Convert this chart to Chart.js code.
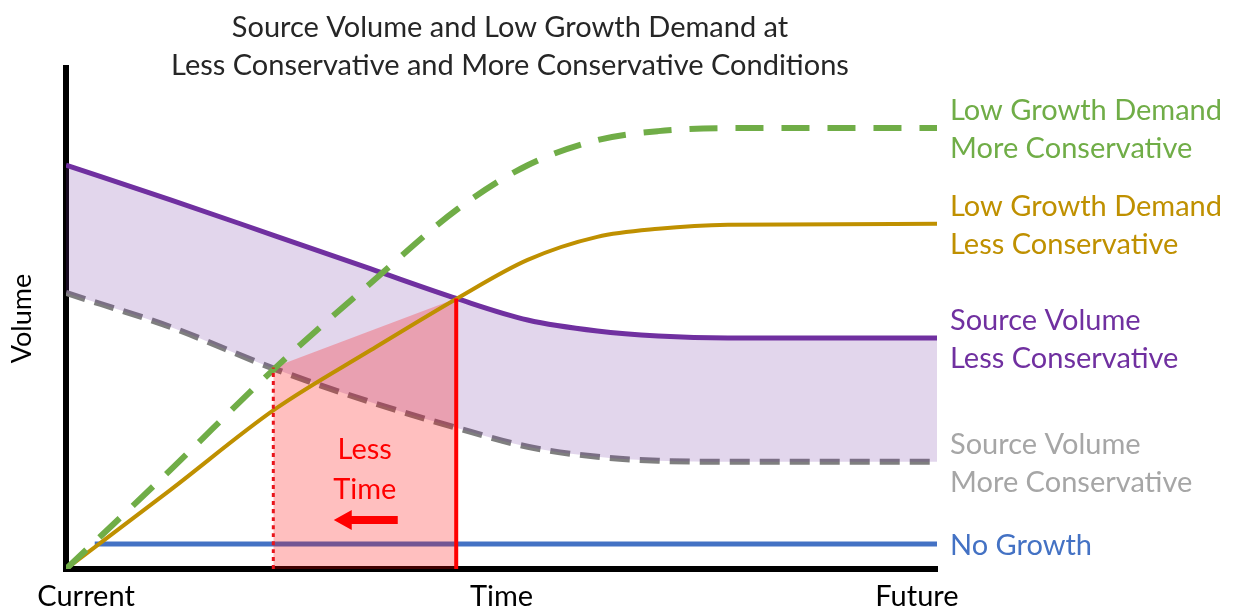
<!DOCTYPE html>
<html>
<head>
<meta charset="utf-8">
<script src="https://cdn.jsdelivr.net/npm/chart.js@4.4.1/dist/chart.umd.min.js"></script>
<style>
    body { margin: 0; background: #fff; }
    #wrap { width: 1239px; height: 611px; }
</style>
</head>
<body>
<div id="wrap"><canvas id="chart" width="1239" height="611"></canvas></div>
<script>
const FONT = 'Lato, "Open Sans", sans-serif';

const titleLines = ['Source Volume and Low Growth Demand at', 'Less Conservative and More Conservative Conditions'];
const tickValues = [2.3, 50, 97.7];
const tickLabels = ['Current', 'Time', 'Future'];

// time runs 0 (current) .. 100 (future), volume 0 .. 100 (no units in the original)
const timeX = [0, 12, 24, 35, 45, 53, 61, 68, 76, 100];
const sourceLess = [80.6, 73.7, 66.5, 59.9, 53.9, 49.7, 47.5, 46.5, 46.1, 46.1];
const sourceMore = [55.1, 48.3, 39.9, 33.3, 28.1, 24.4, 22.4, 21.6, 21.4, 21.4];
const demandMore = [0, 19.8, 40.1, 57.1, 71.9, 80.6, 85.6, 87.4, 88.0, 88.0];
const demandLess = [0, 15.8, 31.9, 43.7, 54.1, 61.7, 66.3, 67.9, 68.7, 68.9];
const noGrowthX = [3.3, 100];
const noGrowthY = [5, 5];

// where demand meets supply under each assumption
const crossLess = { x: 44.8, y: 54.0 };
const crossMore = { x: 23.8, y: 40.2 };

const pts = (xs, ys) => xs.map((x, i) => ({ x, y: ys[i] }));

const textLayer = {
    id: 'textLayer',
    afterDraw(chart) {
        const { ctx, chartArea, scales: { x, y } } = chart;
        ctx.save();
        ctx.textBaseline = 'middle';

        // title
        ctx.font = `29px ${FONT}`;
        ctx.fillStyle = '#262626';
        ctx.textAlign = 'center';
        titleLines.forEach((t, i) => ctx.fillText(t, 510, 28 + i * 38));

        // labels at the end of each line
        ctx.textAlign = 'left';
        chart.data.datasets.forEach((ds, i) => {
            if (!ds.endLabel) return;
            const els = chart.getDatasetMeta(i).data;
            const last = els[els.length - 1];
            const n = ds.endLabel.length;
            ctx.fillStyle = ds.labelColor;
            ds.endLabel.forEach((t, j) => {
                ctx.fillText(t, chartArea.right + 13, last.y + 2 + (j - (n - 1) / 2) * 38);
            });
        });

        // "Less Time" note with arrow
        const midX = (x.getPixelForValue(crossMore.x) + x.getPixelForValue(crossLess.x)) / 2;
        ctx.fillStyle = '#ff0000';
        ctx.textAlign = 'center';
        ctx.fillText('Less', midX, y.getPixelForValue(23.8));
        ctx.fillText('Time', midX, y.getPixelForValue(15.8));

        const ay = y.getPixelForValue(9.8);
        ctx.beginPath();
        ctx.moveTo(midX - 31, ay);
        ctx.lineTo(midX - 13, ay - 10);
        ctx.lineTo(midX - 13, ay - 4);
        ctx.lineTo(midX + 33, ay - 4);
        ctx.lineTo(midX + 33, ay + 4);
        ctx.lineTo(midX - 13, ay + 4);
        ctx.lineTo(midX - 13, ay + 10);
        ctx.closePath();
        ctx.fill();
        ctx.restore();
    }
};

const curve = { pointRadius: 0, cubicInterpolationMode: 'monotone', fill: false };

new Chart(document.getElementById('chart'), {
    type: 'line',
    data: {
        datasets: [
            { ...curve, data: [{ x: crossMore.x, y: 0 }, crossMore], borderColor: '#e8141b', borderWidth: 3, borderDash: [4, 4] },
            { ...curve, data: [{ x: crossLess.x, y: 0 }, crossLess], borderColor: '#ff0000', borderWidth: 4 },
            { ...curve, data: pts(timeX, demandMore), borderColor: '#70ad47', borderWidth: 6, borderDash: [28, 18],
              endLabel: ['Low Growth Demand', 'More Conservative'], labelColor: '#70ad47' },
            { ...curve, data: pts(timeX, demandLess), borderColor: '#bf9000', borderWidth: 4,
              endLabel: ['Low Growth Demand', 'Less Conservative'], labelColor: '#bf9000' },
            { ...curve, data: [crossMore, crossLess], borderWidth: 0, fill: 'origin', backgroundColor: 'rgba(255, 0, 0, 0.25)' },
            { ...curve, data: pts(timeX, sourceLess), borderColor: '#7030a0', borderWidth: 5,
              fill: '+1', backgroundColor: 'rgba(112, 48, 160, 0.2)',
              endLabel: ['Source Volume', 'Less Conservative'], labelColor: '#7030a0' },
            { ...curve, data: pts(timeX, sourceMore), borderColor: '#7f7f7f', borderWidth: 6, borderDash: [20, 10],
              endLabel: ['Source Volume', 'More Conservative'], labelColor: '#a6a6a6' },
            { ...curve, data: pts(noGrowthX, noGrowthY), borderColor: '#4472c4', borderWidth: 5,
              endLabel: ['No Growth'], labelColor: '#4472c4' }
        ]
    },
    options: {
        responsive: false,
        animation: false,
        layout: { padding: { left: 2, right: 302, top: 68, bottom: 0 } },
        plugins: { legend: { display: false }, tooltip: { enabled: false }, title: { display: false } },
        scales: {
            x: {
                type: 'linear', min: 0, max: 100,
                grid: { display: false, drawTicks: false },
                border: { display: true, color: '#000', width: 6 },
                afterBuildTicks: (scale) => { scale.ticks = tickValues.map(v => ({ value: v })); },
                afterFit: (scale) => { scale.height = 42; },
                ticks: {
                    autoSkip: false, maxRotation: 0, padding: 13, color: '#000',
                    font: { family: FONT, size: 29, lineHeight: 1 },
                    callback: (v, i) => tickLabels[i]
                }
            },
            y: {
                type: 'linear', min: 0, max: 100,
                grid: { display: false, drawTicks: false },
                border: { display: true, color: '#000', width: 6 },
                ticks: { display: false },
                title: {
                    display: true, text: 'Volume', color: '#000',
                    font: { family: FONT, size: 27, lineHeight: 1 },
                    padding: { top: 7, bottom: 30 }
                }
            }
        }
    },
    plugins: [textLayer]
});
</script>
</body>
</html>
